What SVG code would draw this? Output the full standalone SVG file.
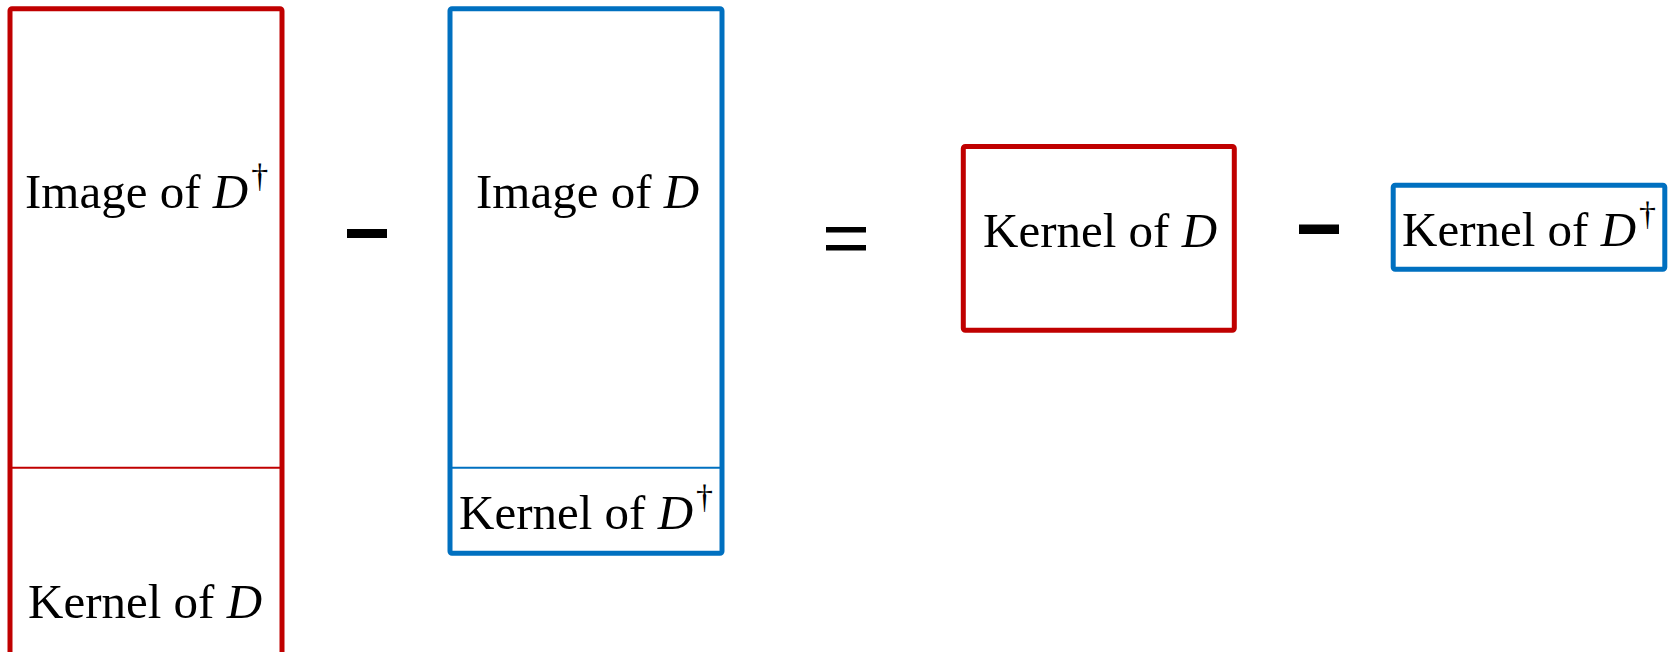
<svg xmlns="http://www.w3.org/2000/svg" width="1673" height="652" viewBox="0 0 1673 652">
<style>
.red{fill:none;stroke:#C00000;stroke-width:5;stroke-linejoin:round}
.blue{fill:none;stroke:#0070C0;stroke-width:5;stroke-linejoin:round}
.redl{stroke:#C00000;stroke-width:2}
.bluel{stroke:#0070C0;stroke-width:2}
.t{font-family:"Liberation Serif","DejaVu Serif",serif;font-size:49px;fill:#000}
.it{font-style:italic}
.dg{font-size:34px}
.op{fill:#000}
</style>
<rect width="1673" height="652" fill="#fff"/>
<g id="node-image-ddag">
<rect class="red" x="10" y="8.7" width="272" height="650" rx="2"/>
<line class="redl" x1="12" y1="467.7" x2="280" y2="467.7"/>
<text class="t" x="25" y="207.5">Image of <tspan class="it">D</tspan><tspan class="dg" dx="3" dy="-21">†</tspan></text>
<text class="t" x="28" y="618">Kernel of <tspan class="it">D</tspan></text>
</g>
<g id="op-minus1"><rect class="op" x="347" y="229" width="40" height="9"/></g>
<g id="node-image-d">
<rect class="blue" x="450" y="8.7" width="272" height="544.6" rx="2"/>
<line class="bluel" x1="452" y1="467.7" x2="720" y2="467.7"/>
<text class="t" x="476" y="207.5">Image of <tspan class="it">D</tspan></text>
<text class="t" x="459" y="529">Kernel of <tspan class="it">D</tspan><tspan class="dg" dx="3" dy="-21">†</tspan></text>
</g>
<g id="op-equals">
<rect class="op" x="826" y="227" width="40" height="5.5"/>
<rect class="op" x="826" y="245" width="40" height="5.5"/>
</g>
<g id="node-kernel-d">
<rect class="red" x="963.3" y="146.5" width="271" height="183.7" rx="2"/>
<text class="t" x="983" y="246.5">Kernel of <tspan class="it">D</tspan></text>
</g>
<g id="op-minus2"><rect class="op" x="1299" y="224.5" width="40" height="9.5"/></g>
<g id="node-kernel-ddag">
<rect class="blue" x="1393.2" y="185.2" width="271.6" height="84" rx="2"/>
<text class="t" x="1402" y="246">Kernel of <tspan class="it">D</tspan><tspan class="dg" dx="3" dy="-21">†</tspan></text>
</g>
<g id="connectors"/>
</svg>
